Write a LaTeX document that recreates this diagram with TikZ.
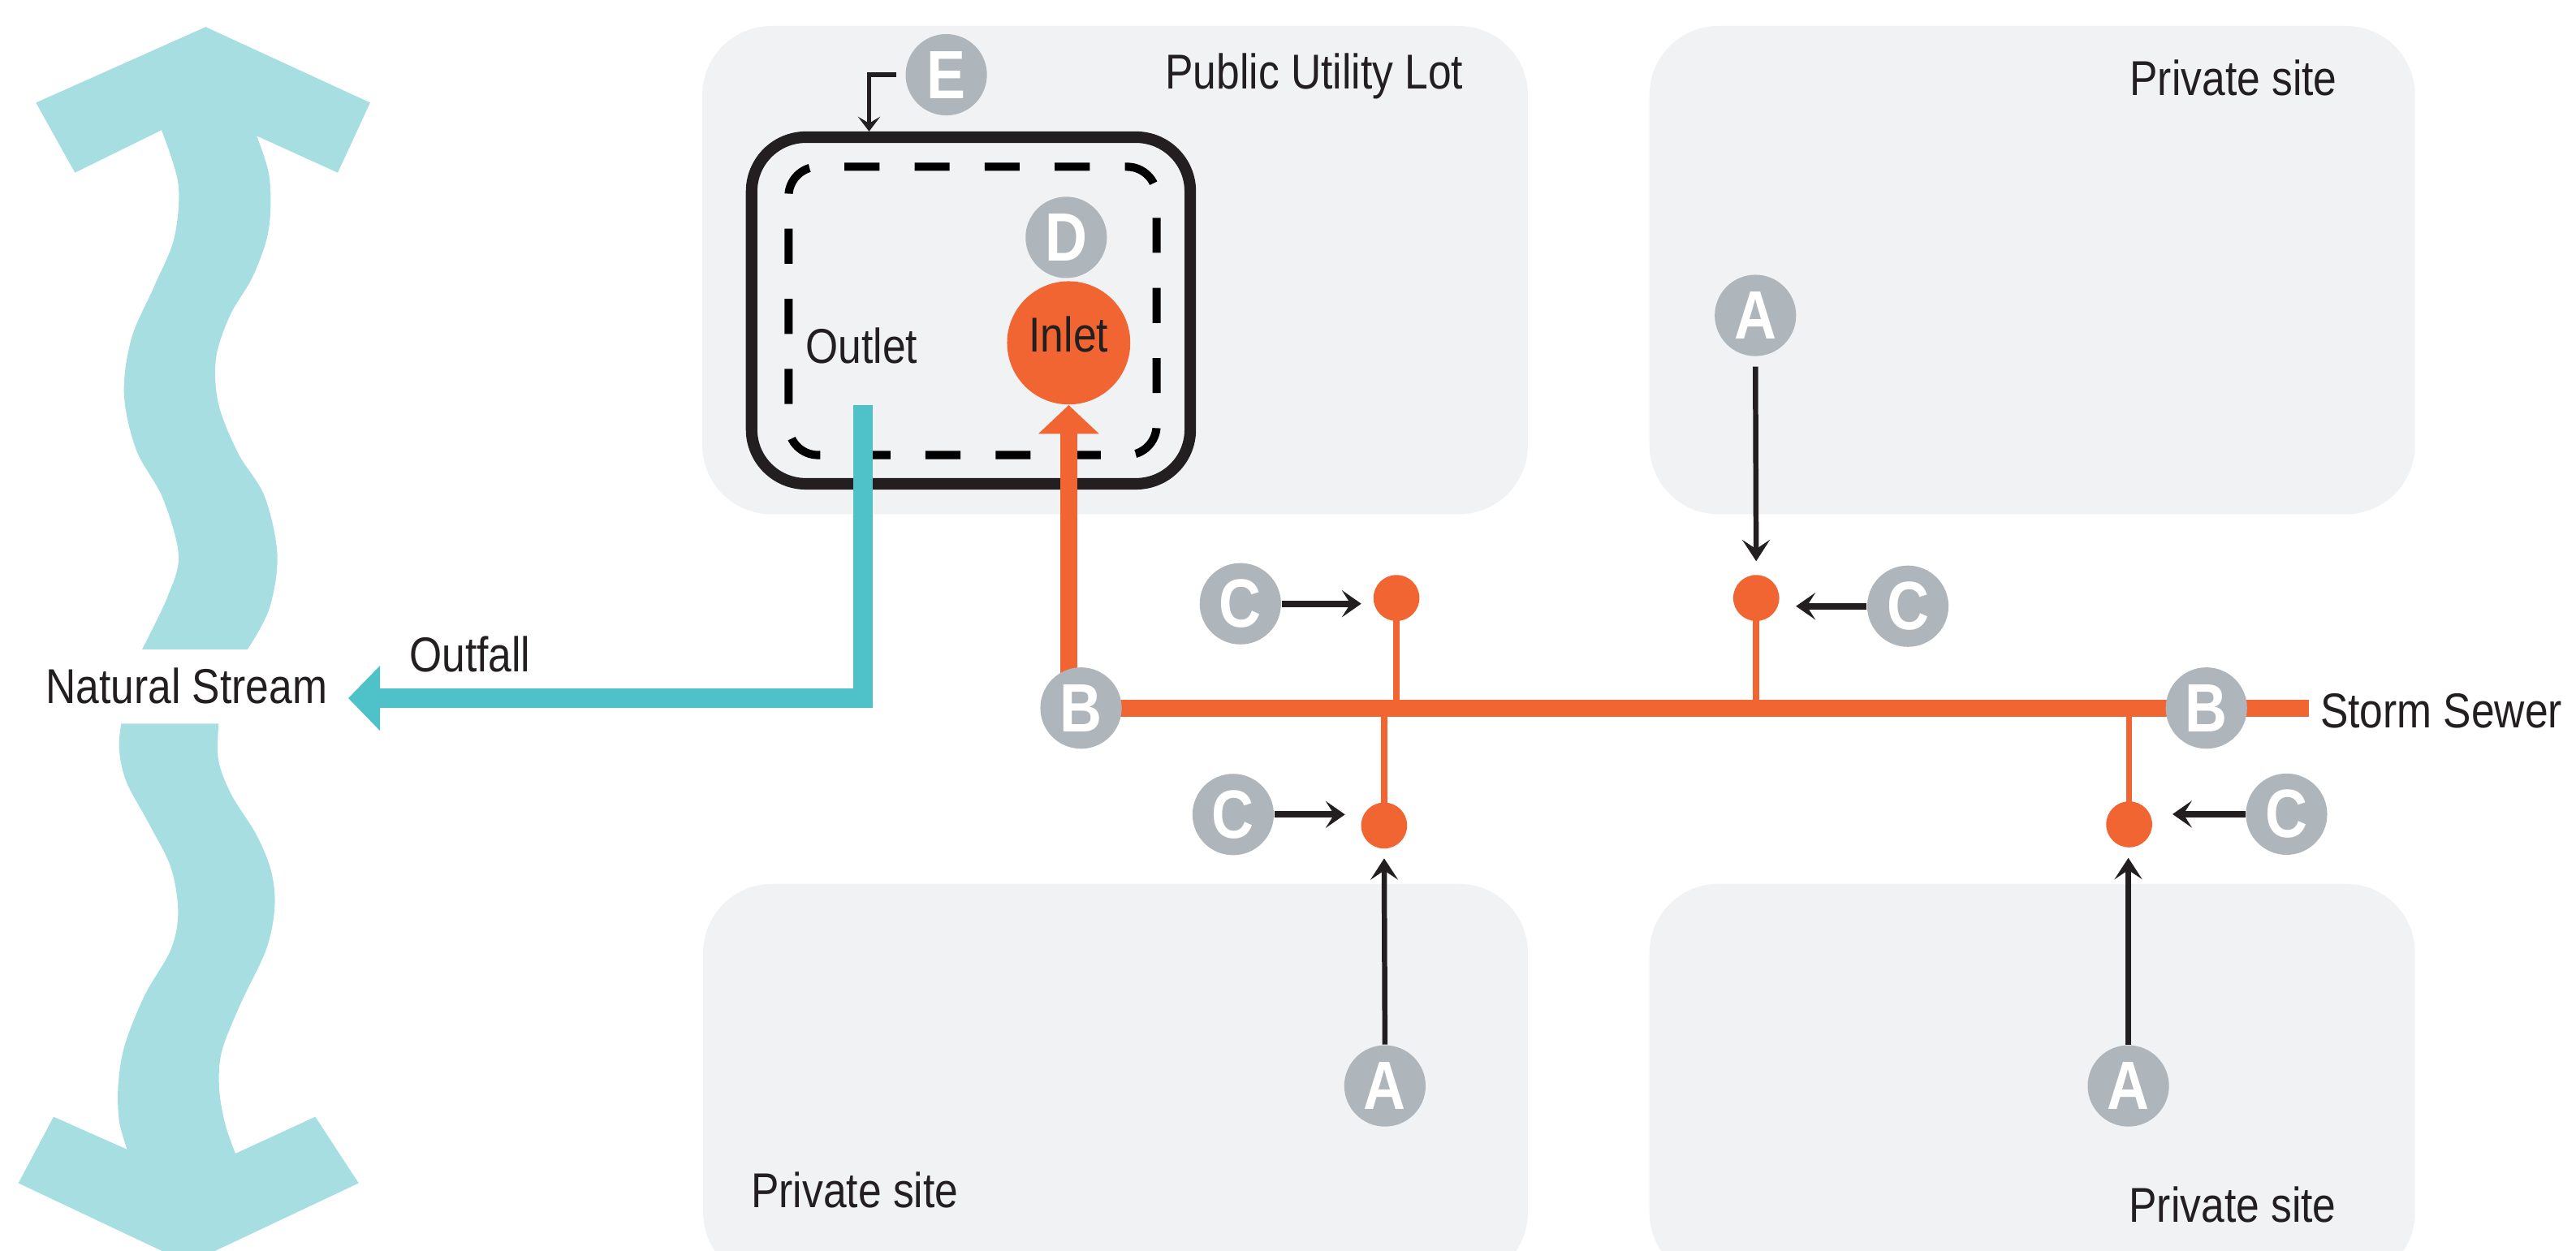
\documentclass[tikz,border=0pt]{standalone}
\usepackage{fontspec}
\setmainfont{Liberation Sans}[FakeStretch=0.855]
\usetikzlibrary{arrows.meta}
\definecolor{cpanel}{HTML}{F1F2F4}
\definecolor{cbadge}{HTML}{AFB6BB}
\definecolor{corange}{HTML}{F16532}
\definecolor{ccyan}{HTML}{4FC1C8}
\definecolor{cstream}{HTML}{A6DEE1}
\definecolor{cink}{HTML}{231F20}
\newcommand\mylblfont{\fontsize{14.9pt}{16pt}\selectfont}
\newcommand\mybadgefont{\fontsize{20.8pt}{21pt}\selectfont\bfseries}
\pgfdeclarelayer{panels}
\pgfdeclarelayer{pipes}
\pgfsetlayers{panels,pipes,main}
\begin{document}
\begin{tikzpicture}[x=0.5pt, y=-0.5pt,
  panel/.style={fill=cpanel, rounded corners=21pt},
  badge/.style={circle, fill=cbadge, minimum size=24.75pt, inner sep=0pt, text=white, font=\mybadgefont},
  dot/.style={circle, fill=corange, minimum size=14pt, inner sep=0pt},
  inletnode/.style={circle, fill=corange, minimum size=37.5pt, inner sep=0pt, text=cink, font=\mylblfont, text height=10.8pt, text depth=5.5pt},
  lbl/.style={inner sep=0pt, anchor=base, text=cink, font=\mylblfont},
  unitbox/.style={draw=cink, line width=3.5pt, rounded corners=16.5pt, minimum width=133.5pt, minimum height=105.5pt, inner sep=0pt},
  dashbox/.style={draw=black, line width=2.5pt, rounded corners=9pt, dash pattern=on 10.668pt off 10.668pt, dash phase=5.334pt},
  sewerline/.style={draw=corange, line width=5.25pt},
  branch/.style={draw=corange, line width=1.9pt},
  inletpipe/.style={draw=corange, line width=5.2pt, -{Triangle[length=8.75pt, width=18pt]}},
  outfallpipe/.style={draw=ccyan, line width=5.8pt, line join=miter, -{Triangle[length=9.65pt, width=19.25pt]}},
  carrow/.style={draw=cink, line width=1.9pt, -{Stealth[length=5.9pt, width=8.2pt, inset=2.6pt]}},
  aarrow/.style={draw=cink, line width=1.6pt, -{Stealth[length=6.5pt, width=8.4pt, inset=2.8pt]}},
  earrow/.style={draw=cink, line width=1.3pt, -{Stealth[length=4.5pt, width=6.8pt, inset=2pt]}},
  streamfill/.style={fill=cstream}
]
\useasboundingbox (0,0) rectangle (1568,761.5);

% ---------- panels ----------
\begin{pgfonlayer}{panels}
\fill[panel] (427.5,15.8) rectangle (930,313);
\fill[panel] (1004,15.8) rectangle (1470,313);
\fill[panel] (428,538) rectangle (930,780);
\fill[panel] (1004,538) rectangle (1470,780);
\node[unitbox] (unit) at (591,189) {};
\draw[dashbox] (592,101.5) -- (704,101.5) -- (704,277) -- (480,277) -- (480,101.5) -- cycle;
% stream
\fill[streamfill] (21.9,62.5) -- (125.2,16.4) -- (225.3,62.5) -- (205.6,105.1) -- (156.2,82.7)
  -- plot[smooth, tension=0.55] coordinates {(156.2,82.7) (164,108) (163.5,140) (154,168) (140,192) (131.5,218) (133,246) (145,276) (161,302) (168.8,337.8) (163.9,370.6) (150.7,395.3)}
  -- plot[smooth, tension=0.55] coordinates {(86.5,395.3) (102.1,363) (108.7,337.8) (99,303) (83,274) (75.5,240) (80,206) (94,174) (106,145) (108.5,112) (98.3,79.2)}
  -- (45.6,105.1) -- cycle;
\fill[streamfill] (73.8,440.5) -- (133.1,440.5)
  -- plot[smooth, tension=0.55] coordinates {(133.1,440.5) (133,463) (141,484) (156,508) (165,530) (167.2,552) (162,578) (146,612) (135,640) (133.4,662) (137,684) (143.3,702.2)}
  -- (191.9,679.8) -- (218.3,720.2) -- (114.7,769.1) -- (11.2,720.2) -- (32.6,679.8) -- (77.4,699.7)
  -- plot[smooth, tension=0.55] coordinates {(77.4,699.7) (72.5,682) (72,660) (76,636) (88,606) (104,578) (108.4,555) (104,528) (91,502) (77,476) (72.5,456) (73.8,440.5)}
  -- cycle;
\end{pgfonlayer}

% ---------- nodes ----------
\node[badge] (E) at (576,45.5) {E};
\node[badge] (D) at (649,144.5) {D};
\node[inletnode] (inlet) at (650.5,208.7) {Inlet};
\node[badge] (B1) at (658,431) {B};
\node[badge] (B2) at (1343,431) {B};
\node[badge] (C1) at (755,367.5) {C};
\node[badge] (C2) at (750.6,495.8) {C};
\node[badge] (C3) at (1161.3,369) {C};
\node[badge] (C4) at (1391.8,495.6) {C};
\node[badge] (A1) at (1068.5,192) {A};
\node[badge] (A2) at (843,661) {A};
\node[badge] (A3) at (1295.5,661) {A};
\node[dot] (p1) at (850,364) {};
\node[dot] (p2) at (842.5,502.5) {};
\node[dot] (p3) at (1069,364) {};
\node[dot] (p4) at (1296,501.8) {};

\node[lbl] (stream) at (113.5,428) {Natural Stream};
\node[lbl] (outfall) at (286,408.7) {Outfall};
\node[lbl] (outlet) at (524.5,221) {Outlet};
\node[lbl] (sewerlbl) at (1486,443) {Storm Sewer};
\node[lbl] (publot) at (800,54) {Public Utility Lot};
\node[lbl] (priv1) at (1359.5,58) {Private site};
\node[lbl] (priv2) at (520.3,735) {Private site};
\node[lbl] (priv3) at (1359,744) {Private site};

\coordinate (sewerend) at (1405.6,431);
\coordinate (outletpipe) at (525.3,246.5);
\coordinate (outfalltip) at (212,425);

% ---------- connectors ----------
\begin{pgfonlayer}{pipes}
\draw[sewerline] (B1.center) -- (sewerend);
\draw[inletpipe] (inlet.south |- B1.center) -- (inlet.south);
\draw[outfallpipe] (outletpipe) |- (outfalltip);
\draw[branch] (p1.center) -- (p1.center |- B1.center);
\draw[branch] (p2.center) -- (p2.center |- B1.center);
\draw[branch] (p3.center) -- (p3.center |- B1.center);
\draw[branch] (p4.center) -- (p4.center |- B1.center);
\draw[carrow, shorten >=3.5pt] (C1.east) -- (C1.east -| p1.west);
\draw[carrow, shorten >=4.7pt] (C2.east) -- (C2.east -| p2.west);
\draw[carrow, shorten >=4.9pt] (C3.west) -- (C3.west -| p3.east);
\draw[carrow, shorten >=6pt] (C4.west) -- (C4.west -| p4.east);
\draw[aarrow, shorten <=3pt, shorten >=4pt] (A1.south) -- (p3.north);
\draw[aarrow, shorten >=2.8pt] (A2.north) -- (p2.south);
\draw[aarrow, shorten >=3pt] (A3.north) -- (A3.north |- p4.south);
\draw[earrow, shorten <=2.75pt] (E.west) -| ([xshift=37.5pt]unit.north west);
\end{pgfonlayer}
\end{tikzpicture}
\end{document}
